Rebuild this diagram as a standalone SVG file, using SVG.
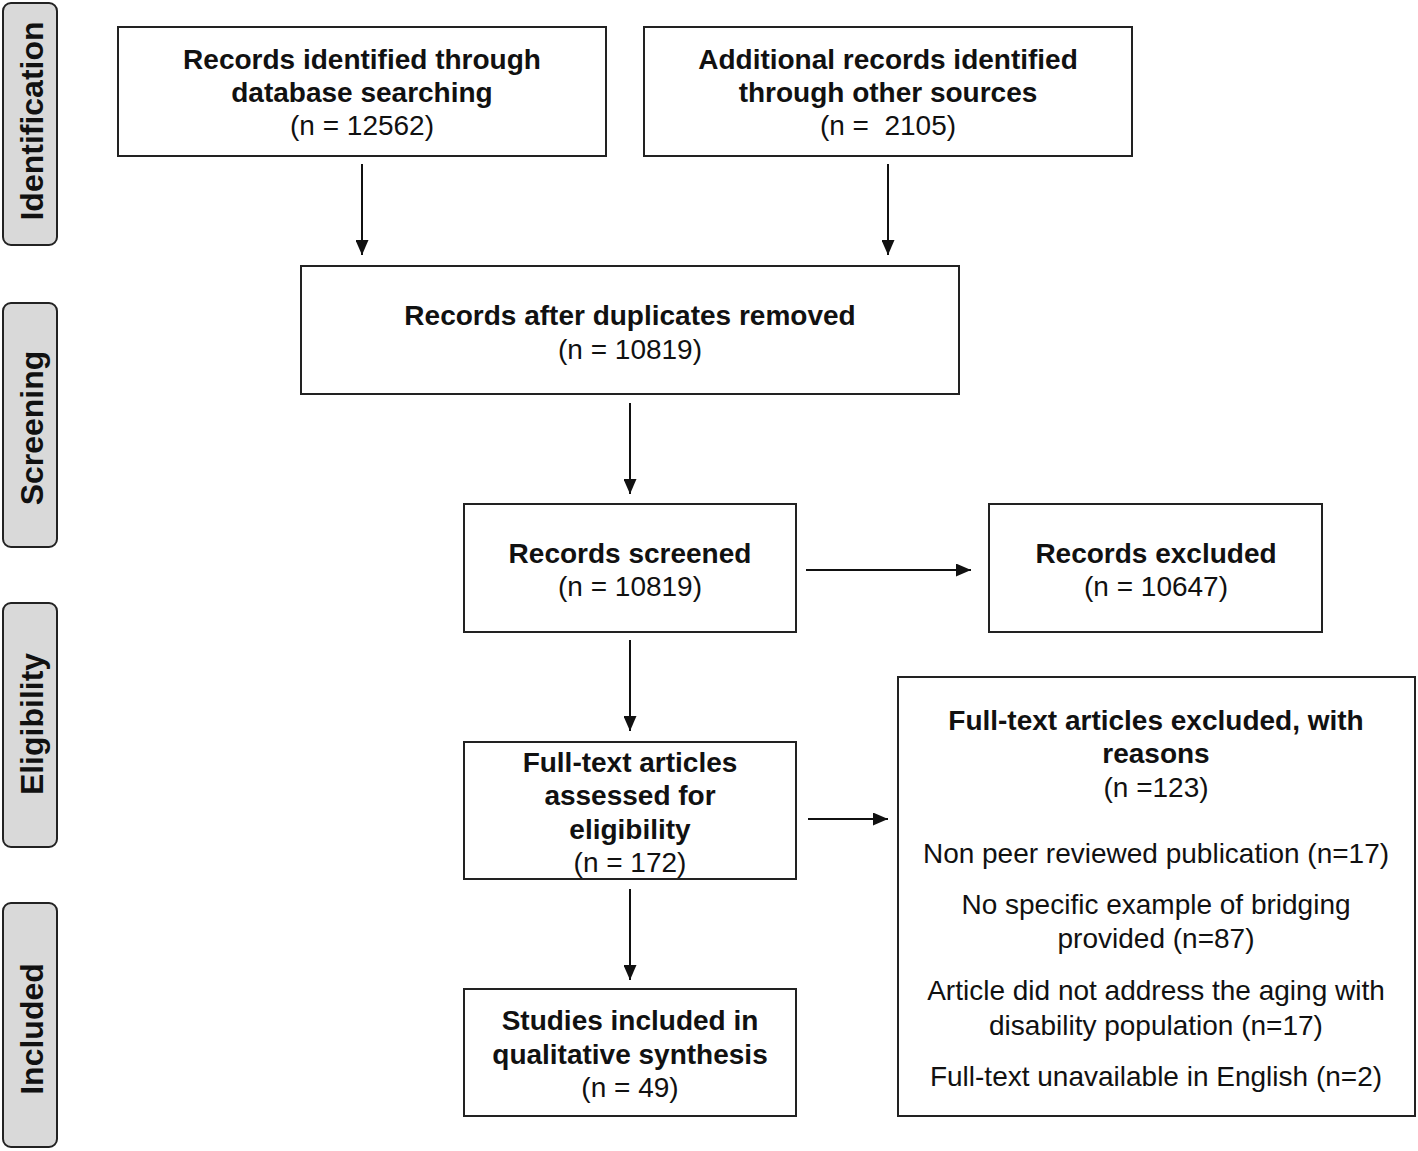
<svg xmlns="http://www.w3.org/2000/svg" width="1418" height="1151" viewBox="0 0 1418 1151">
<style>
.box{fill:#fff;stroke:#222;stroke-width:2}
.side{fill:#d9d9d9;stroke:#222;stroke-width:2}
text{font-family:"Liberation Sans",Arial,sans-serif;font-size:28px;fill:#111;text-anchor:middle}
.b{font-weight:bold}
.s{font-weight:bold;font-size:32px}
.c{stroke:#111;stroke-width:2;fill:none;marker-end:url(#ah)}
</style>
<defs>
<marker id="ah" viewBox="0 0 15 13" refX="15" refY="6.5" markerWidth="15" markerHeight="13" markerUnits="userSpaceOnUse" orient="auto">
<path d="M0,0 L15,6.5 L0,13 z" fill="#111"/>
</marker>
</defs>
<rect width="1418" height="1151" fill="#fff"/>
<g id="phase-identification"><rect class="side" x="3" y="3" width="54" height="242" rx="8"/><text class="s" transform="translate(43,121) rotate(-90)">Identification</text></g>
<g id="phase-screening"><rect class="side" x="3" y="303" width="54" height="244" rx="8"/><text class="s" transform="translate(43,428) rotate(-90)">Screening</text></g>
<g id="phase-eligibility"><rect class="side" x="3" y="603" width="54" height="244" rx="8"/><text class="s" transform="translate(43,724) rotate(-90)">Eligibility</text></g>
<g id="phase-included"><rect class="side" x="3" y="903" width="54" height="244" rx="8"/><text class="s" transform="translate(43,1029) rotate(-90)">Included</text></g>

<g id="db"><rect class="box" x="118" y="27" width="488" height="129"/>
<text class="b" x="362" y="69">Records identified through</text>
<text class="b" x="362" y="102">database searching</text>
<text x="362" y="135">(n = 12562)</text></g>
<g id="other"><rect class="box" x="644" y="27" width="488" height="129"/>
<text class="b" x="888" y="69">Additional records identified</text>
<text class="b" x="888" y="102">through other sources</text>
<text x="888" y="135" xml:space="preserve">(n =  2105)</text></g>
<g id="dedup"><rect class="box" x="301" y="266" width="658" height="128"/>
<text class="b" x="630" y="325">Records after duplicates removed</text>
<text x="630" y="359">(n = 10819)</text></g>
<g id="screened"><rect class="box" x="464" y="504" width="332" height="128"/>
<text class="b" x="630" y="563">Records screened</text>
<text x="630" y="596">(n = 10819)</text></g>
<g id="excluded"><rect class="box" x="989" y="504" width="333" height="128"/>
<text class="b" x="1156" y="563">Records excluded</text>
<text x="1156" y="596">(n = 10647)</text></g>
<g id="fulltext"><rect class="box" x="464" y="742" width="332" height="137"/>
<text class="b" x="630" y="772">Full-text articles</text>
<text class="b" x="630" y="805">assessed for</text>
<text class="b" x="630" y="839">eligibility</text>
<text x="630" y="872">(n = 172)</text></g>
<g id="ftexcluded"><rect class="box" x="898" y="677" width="517" height="439"/>
<text class="b" x="1156" y="730">Full-text articles excluded, with</text>
<text class="b" x="1156" y="763">reasons</text>
<text x="1156" y="797">(n =123)</text>
<text x="1156" y="863">Non peer reviewed publication (n=17)</text>
<text x="1156" y="914">No specific example of bridging</text>
<text x="1156" y="948">provided (n=87)</text>
<text x="1156" y="1000">Article did not address the aging with</text>
<text x="1156" y="1035">disability population (n=17)</text>
<text x="1156" y="1086">Full-text unavailable in English (n=2)</text></g>
<g id="included"><rect class="box" x="464" y="989" width="332" height="127"/>
<text class="b" x="630" y="1030">Studies included in</text>
<text class="b" x="630" y="1064">qualitative synthesis</text>
<text x="630" y="1097">(n = 49)</text></g>

<g id="connectors">
<line class="c" x1="362" y1="164" x2="362" y2="255"/>
<line class="c" x1="888" y1="164" x2="888" y2="255"/>
<line class="c" x1="630" y1="403" x2="630" y2="494"/>
<line class="c" x1="806" y1="570" x2="971" y2="570"/>
<line class="c" x1="630" y1="640" x2="630" y2="731"/>
<line class="c" x1="808" y1="819" x2="888" y2="819"/>
<line class="c" x1="630" y1="889" x2="630" y2="980"/>
</g>
</svg>
